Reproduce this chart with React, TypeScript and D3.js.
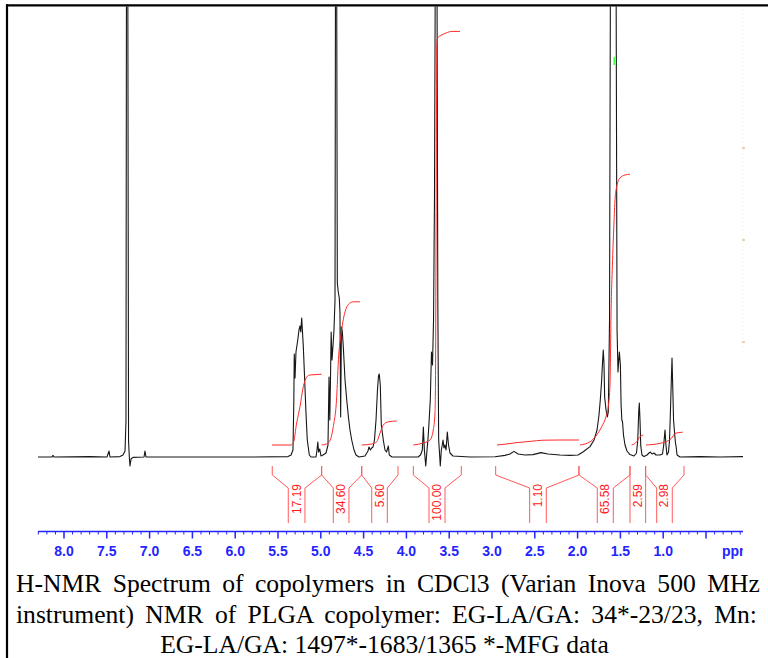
import React from 'react';
import * as d3 from 'd3';

// ---- data (ppm, intensity in arbitrary units) ----
const spectrum: [number, number][] = [
  [8.304, 0], [8.14, 0], [8.129, 0.4], [8.117, 0], [7.696, 0.1], [7.498, 0], [7.474, 1.5], [7.463, 0],
  [7.346, 0.1], [7.311, 0.5], [7.287, 1.5], [7.276, 9], [7.27, 125], [7.255, 125], [7.246, 4], [7.237, 0],
  [7.229, -2.25], [7.217, -0.5], [7.194, -0.1], [7.065, 0], [7.054, 1.5], [7.042, 0], [6.411, 0], [5.827, 0],
  [5.383, 0.1], [5.348, 0.5], [5.325, 1.75], [5.315, 14.25], [5.31, 25.75], [5.301, 19.75], [5.29, 26.25],
  [5.278, 28], [5.266, 29.75], [5.255, 31.75], [5.243, 32.75], [5.234, 31.25], [5.223, 34.75], [5.214, 31.25],
  [5.204, 27.5], [5.193, 21.75], [5.173, 11], [5.158, 4.25], [5.134, 0.5], [5.114, 0], [5.056, 0], [5.044, 1.75],
  [5.035, 3.75], [5.026, 1.25], [5.012, 2], [4.998, 0.25], [4.974, 0.5], [4.939, 1], [4.916, 3], [4.904, 20],
  [4.895, 9.25], [4.887, 19.25], [4.879, 31.25], [4.869, 24.25], [4.857, 28], [4.846, 31.75], [4.834, 39.25],
  [4.828, 125], [4.815, 125], [4.807, 43.5], [4.796, 41.25], [4.784, 39.75], [4.776, 36], [4.768, 10],
  [4.759, 32.5], [4.749, 31.5], [4.737, 27.5], [4.717, 19.25], [4.697, 14.25], [4.676, 9.75], [4.659, 6.75],
  [4.639, 4.25], [4.612, 1.75], [4.589, 0.5], [4.554, 0], [4.484, 0.25], [4.449, 1.5], [4.437, 2.5], [4.42, 1.75],
  [4.405, 2.25], [4.39, 2.5], [4.373, 4.25], [4.355, 9.25], [4.338, 16.75], [4.326, 20.25], [4.317, 20.75],
  [4.305, 18], [4.293, 8], [4.282, 6.25], [4.268, 4], [4.25, 1.75], [4.232, 1.25], [4.211, 2.75], [4.2, 0.5],
  [4.168, 0], [3.864, 0], [3.835, 0.5], [3.814, 1.75], [3.802, 7.5], [3.79, 1.75], [3.774, -2.25], [3.759, 1.75],
  [3.747, 4.75], [3.736, 8.5], [3.721, 14.25], [3.707, 26.25], [3.695, 23], [3.683, 34.25], [3.672, 64.25],
  [3.662, 125], [3.643, 125], [3.633, 39.25], [3.623, 4.25], [3.614, 1.25], [3.604, -2.25], [3.592, 1.75],
  [3.581, 3], [3.572, 4.25], [3.561, 2.25], [3.549, 3], [3.537, 1.75], [3.522, 6.25], [3.508, 3], [3.491, 1],
  [3.456, 0.25], [3.257, 0], [2.965, 0.05], [2.848, 0.4], [2.79, 0.75], [2.743, 1.4], [2.696, 0.75], [2.614, 0.5],
  [2.521, 0.6], [2.428, 1.1], [2.346, 0.75], [2.206, 0.5], [2.089, 0.4], [1.995, 0.5], [1.933, 1.3], [1.855, 2.6],
  [1.808, 4.25], [1.773, 6.75], [1.75, 10.5], [1.735, 14.25], [1.721, 18.5], [1.709, 23.5], [1.7, 26.75],
  [1.692, 23.5], [1.684, 15], [1.668, 11.75], [1.653, 10], [1.641, 11.25], [1.627, 34.25], [1.616, 125],
  [1.551, 125], [1.539, 31.75], [1.528, 21.25], [1.519, 24.25], [1.512, 26.25], [1.5, 23], [1.492, 13],
  [1.483, 9.25], [1.475, 8.75], [1.464, 5.5], [1.446, 3], [1.423, 1.5], [1.388, 0.6], [1.341, 0.25], [1.312, 1],
  [1.297, 4.25], [1.286, 11.25], [1.279, 13.5], [1.271, 9.25], [1.262, 2.75], [1.248, 0.5], [1.224, 0.1],
  [1.189, 0.5], [1.166, 1], [1.149, 1.25], [1.131, 0.75], [1.107, 1], [1.084, 0.5], [1.037, 0.5], [1.008, 0.75],
  [0.994, 3], [0.979, 6.75], [0.967, 2.75], [0.956, 0.5], [0.938, 1.25], [0.926, 4.25], [0.915, 11.75],
  [0.905, 19.25], [0.897, 24.75], [0.889, 18], [0.879, 9.25], [0.868, 6.25], [0.858, 3.75], [0.85, 2.75],
  [0.838, 0.5], [0.804, 0], [0.57, 0.1], [0.336, 0], [0.068, 0.1],
];

const integralLabels = ['17.19', '34.60', '5.60', '100.00', '1.10', '65.58', '2.59', '2.98'];

const integralCurves: [number, number][][] = [
  [[5.57, 3], [5.35, 3], [5.321, 3.5], [5.282, 8.5], [5.243, 12.6], [5.204, 17.6], [5.165, 20], [5.126, 20.5], [5.056, 20.6], [4.99, 20.7]],
  [[4.99, 3], [4.912, 3.5], [4.854, 7.6], [4.814, 15.1], [4.796, 23.5], [4.756, 31.75], [4.717, 36.3], [4.659, 38.5], [4.62, 38.8], [4.542, 38.8]],
  [[4.522, 3], [4.405, 3.25], [4.347, 3.8], [4.308, 6], [4.27, 8], [4.211, 8.8], [4.113, 9]],
  [[3.919, 3], [3.803, 3.5], [3.724, 4.25], [3.686, 6.75], [3.666, 11], [3.66, 19.25], [3.654, 51.75], [3.648, 89.25], [3.645, 103], [3.636, 104.75], [3.596, 105.4], [3.537, 106], [3.467, 106.4], [3.374, 106.4]],
  [[2.942, 3], [2.848, 3.2], [2.708, 3.6], [2.556, 3.9], [2.404, 4.2], [2.206, 4.25], [1.984, 4.25]],
  [[1.972, 3], [1.855, 3.8], [1.777, 5.5], [1.718, 7.6], [1.668, 10.1], [1.641, 12.6], [1.621, 18.5], [1.61, 35.1], [1.594, 47.6], [1.575, 58.5], [1.563, 64.25], [1.543, 67.6], [1.505, 69.75], [1.446, 70.5], [1.388, 70.7]],
  [[1.368, 3], [1.31, 3.8], [1.271, 5.1], [1.232, 5.5]],
  [[1.201, 3], [1.037, 3.4], [0.94, 4.1], [0.901, 4.7], [0.862, 5.9], [0.772, 6.2]],
];

// [start, inner-left, inner-right, end] in ppm
const bracketPpm: [number, number, number, number][] = [
  [5.567, 5.38, 5.185, 4.99],
  [4.99, 4.854, 4.671, 4.522],
  [4.522, 4.405, 4.223, 4.098],
  [3.919, 3.736, 3.549, 3.359],
  [2.957, 2.56, 2.366, 1.984],
  [1.984, 1.77, 1.583, 1.388],
  [1.388, 1.388, 1.205, 1.205],
  [1.205, 1.076, 0.894, 0.757],
];

const majorTicks = [8.0, 7.5, 7.0, 6.5, 6.0, 5.5, 5.0, 4.5, 4.0, 3.5, 3.0, 2.5, 2.0, 1.5, 1.0, 0.5];
const tickLabels = ['8.0', '7.5', '7.0', '6.5', '6.0', '5.5', '5.0', '4.5', '4.0', '3.5', '3.0', '2.5', '2.0', '1.5', '1.0'];
const axisUnit = 'ppm';

const captionLines = [
  'H-NMR Spectrum of copolymers in CDCl3 (Varian Inova 500 MHz',
  'instrument) NMR of PLGA copolymer: EG-LA/GA: 34*-23/23, Mn:',
  'EG-LA/GA: 1497*-1683/1365 *-MFG data',
];

export default function App() {
  const W = 768, H = 658;
  const x = d3.scaleLinear().domain([8.0, 0.5]).range([64, 706]);
  const y = d3.scaleLinear().domain([0, 100]).range([457, 57]);
  const line = d3.line<[number, number]>().x(d => x(d[0])).y(d => y(d[1]));
  const smooth = d3.line<[number, number]>().x(d => x(d[0])).y(d => y(d[1])).curve(d3.curveMonotoneX);

  const axisY = 531.5;
  const minorTicks = d3.range(83, 0, -1).map(v => v / 10).filter(v => Math.round(v * 10) % 5 !== 0);

  const red = '#ff2a2a';
  const bracketRed = '#ff5a5a';
  const blue = '#2424ff';

  return (
    <svg width={W} height={H} style={{ position: 'absolute', left: 0, top: 0, background: '#fff' }}
      xmlns="http://www.w3.org/2000/svg">
      <defs>
        <clipPath id="plotClip">
          <rect x={38} y={6.5} width={705} height={470} />
        </clipPath>
        <clipPath id="axisClip">
          <rect x={30} y={520} width={713} height={45} />
        </clipPath>
      </defs>
      <rect x={0} y={0} width={W} height={H} fill="#fff" />

      {/* faint right edge marks */}
      <line x1={743} x2={743} y1={10} y2={350} stroke="#f3ead6" strokeWidth={1} strokeDasharray="1 3" />
      {[148, 240, 342].map(v => (
        <line key={v} x1={742} x2={745} y1={v} y2={v} stroke="#caa478" strokeWidth={1} />
      ))}

      {/* spectrum */}
      <g clipPath="url(#plotClip)">
        <path d={line(spectrum) || ''} fill="none" stroke="#161616" strokeWidth={1.1} strokeLinejoin="round" />
        <line x1={614.3} x2={614.3} y1={57} y2={65} stroke="#3dff3d" strokeWidth={1.5} />
      </g>

      {/* integral curves */}
      {integralCurves.map((c, i) => (
        <path key={i} d={smooth(c) || ''} fill="none" stroke={red} strokeWidth={1} />
      ))}

      {/* integral brackets */}
      {bracketPpm.map((b, i) => {
        const [s, l, r, e] = b.map(v => x(v));
        const d = `M${s},466V475L${l},488V523M${e},466V475L${r},488V523`;
        return <path key={i} d={d} fill="none" stroke={bracketRed} strokeWidth={1} />;
      })}
      {bracketPpm.map((b, i) => {
        const cx = (x(b[1]) + x(b[2])) / 2;
        return (
          <text key={i} x={cx} y={484} transform={`rotate(-90 ${cx} 484)`} textAnchor="end"
            dominantBaseline="central" fontFamily="'Liberation Sans', Arial, sans-serif" fontSize={12} fill="#ff1a1a">
            {integralLabels[i]}
          </text>
        );
      })}

      {/* axis */}
      <line x1={38} x2={743} y1={axisY} y2={axisY} stroke={blue} strokeWidth={1.6} />
      {majorTicks.map(t => (
        <line key={'M' + t} x1={x(t)} x2={x(t)} y1={axisY} y2={axisY + 7} stroke={blue} strokeWidth={1.5} />
      ))}
      {minorTicks.map(t => (
        <line key={'m' + t} x1={x(t)} x2={x(t)} y1={axisY} y2={axisY + 3} stroke={blue} strokeWidth={1} />
      ))}
      <g fontFamily="'Liberation Sans', Arial, sans-serif" fontWeight="bold" fontSize={14} fill={blue}>
        {tickLabels.map((lab, i) => (
          <text key={lab} x={x(majorTicks[i])} y={556} textAnchor="middle">{lab}</text>
        ))}
        <g clipPath="url(#axisClip)">
          <text x={722} y={556}>{axisUnit}</text>
        </g>
      </g>

      {/* caption */}
      <g fontFamily="'Liberation Serif', 'Times New Roman', serif" fontSize={25.6} fill="#000">
        <text x={16} y={591.5} wordSpacing={5.0}>{captionLines[0]}</text>
        <text x={16} y={623} wordSpacing={4.9}>{captionLines[1]}</text>
        <text x={384.5} y={652.5} textAnchor="middle">{captionLines[2]}</text>
      </g>

      {/* frame */}
      <line x1={7} x2={7} y1={4.3} y2={H} stroke="#000" strokeWidth={2.2} />
      <line x1={6} x2={W} y1={5.3} y2={5.3} stroke="#000" strokeWidth={2.2} />
    </svg>
  );
}
